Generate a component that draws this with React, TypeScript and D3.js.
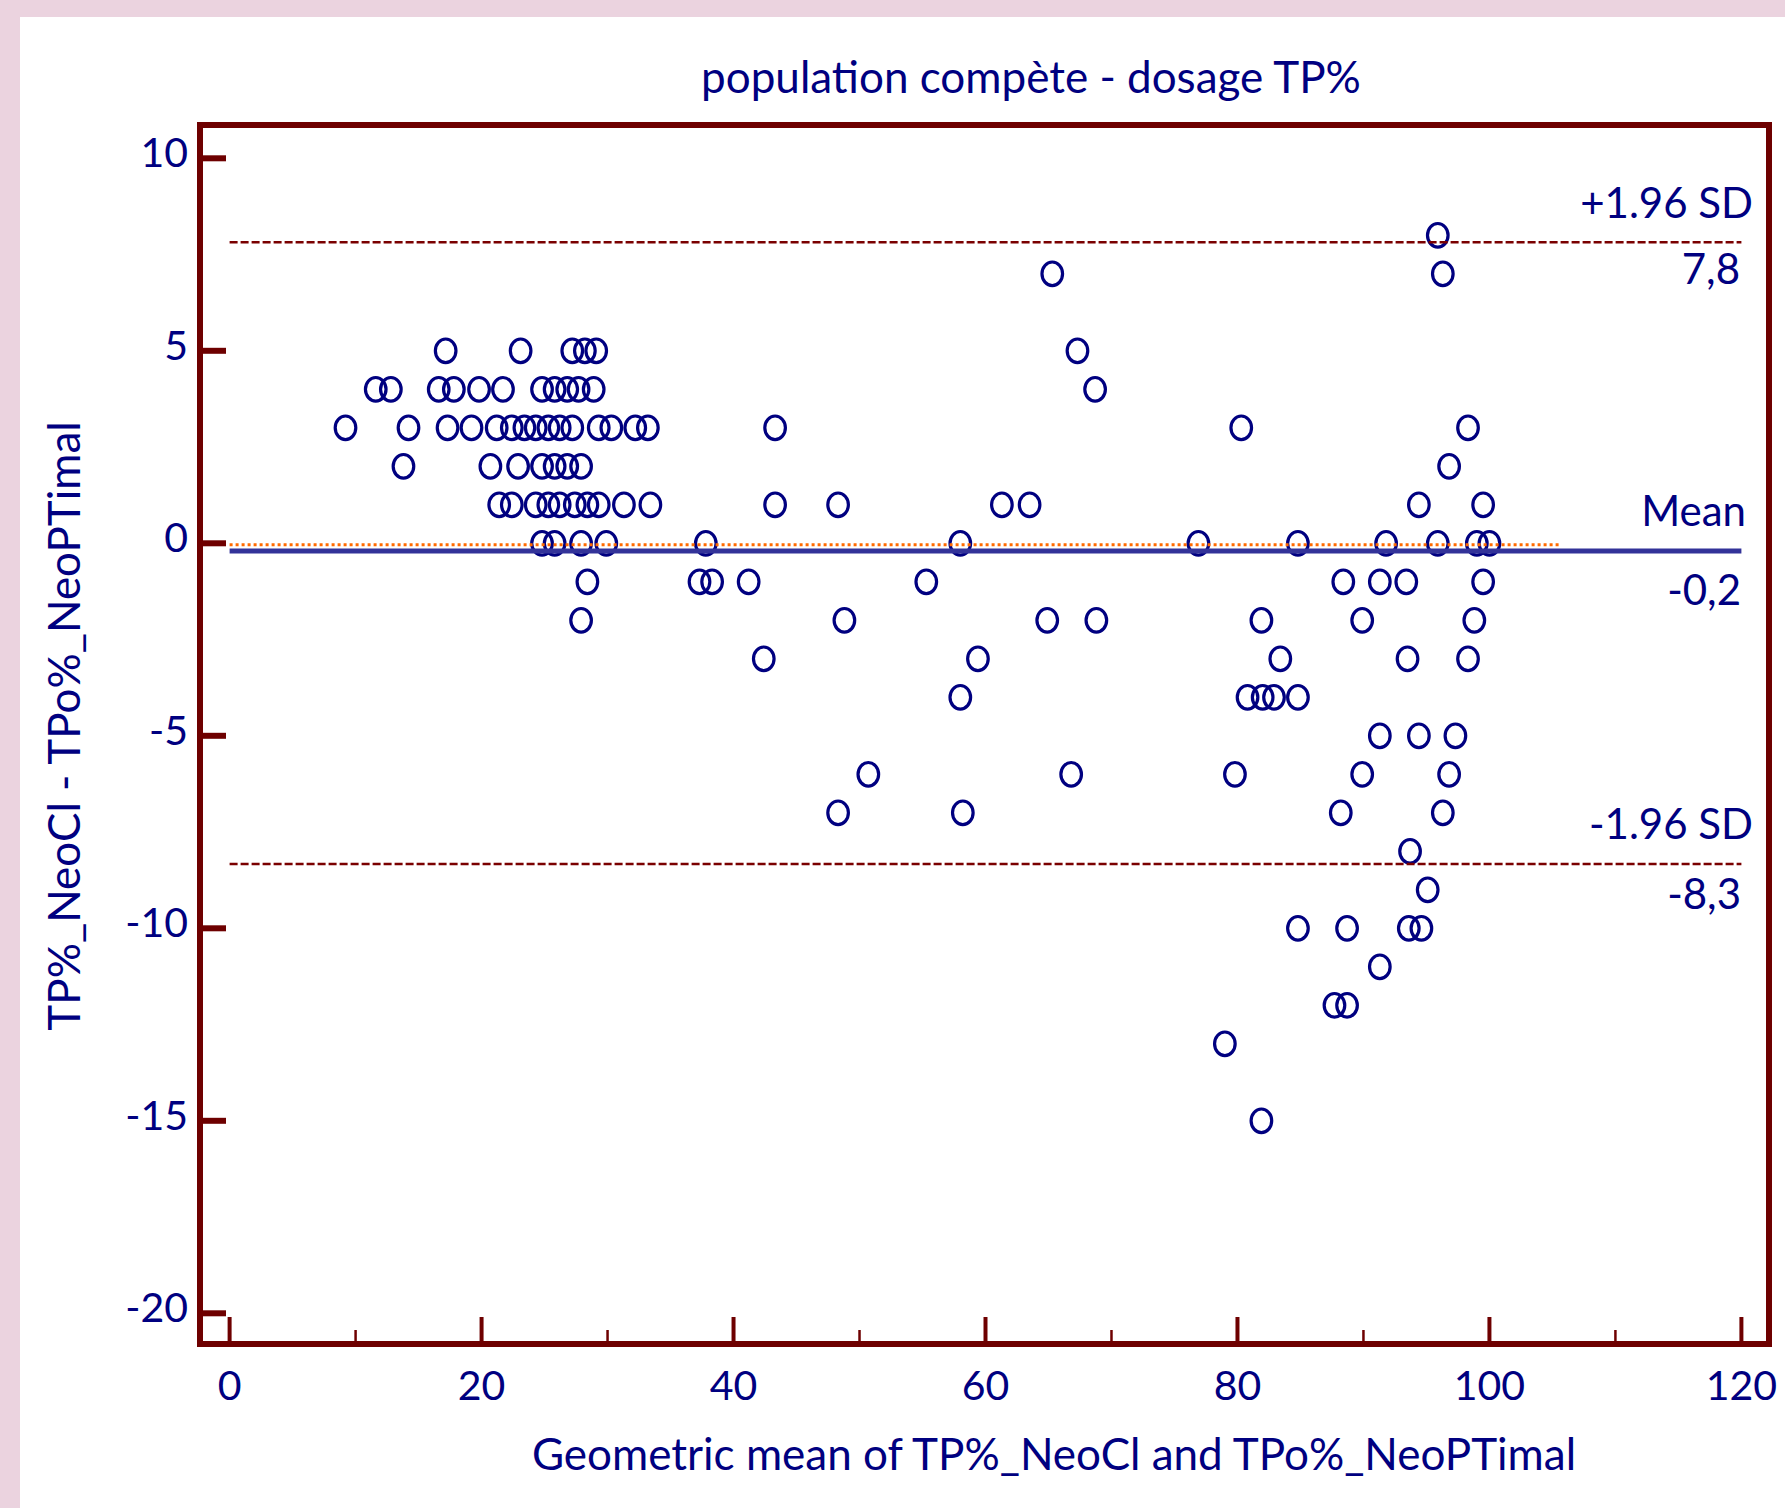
import React from "react";
import * as d3 from "d3";

// difference levels (y) and the geometric means (x) found at each level
const rowDiffs = [8, 7, 5, 4, 3, 2, 1, 0, -1, -2, -3, -4, -5, -6, -7, -8, -9, -10, -11, -12, -13, -15];
const rowMeans = [
  [95.9],
  [65.3, 96.3],
  [17.15, 23.1, 27.2, 28.2, 29.1, 67.3],
  [11.6, 12.8, 16.6, 17.8, 19.8, 21.7, 24.8, 25.8, 26.8, 27.7, 28.9, 68.7],
  [9.2, 14.2, 17.3, 19.2, 21.2, 22.4, 23.4, 24.3, 25.3, 26.2, 27.2, 29.3, 30.3, 32.2, 33.2, 43.3, 80.3, 98.3],
  [13.8, 20.7, 22.9, 24.8, 25.8, 26.8, 27.9, 96.8],
  [21.4, 22.4, 24.3, 25.3, 26.2, 27.4, 28.4, 29.3, 31.3, 33.4, 43.3, 48.3, 61.3, 63.5, 94.4, 99.5],
  [24.8, 25.8, 27.9, 29.9, 37.8, 58.0, 76.9, 84.8, 91.8, 95.9, 99.0, 100.0],
  [28.4, 37.3, 38.3, 41.2, 55.3, 88.4, 91.3, 93.4, 99.5],
  [27.9, 48.8, 64.9, 68.8, 81.9, 89.9, 98.8],
  [42.4, 59.4, 83.4, 93.5, 98.3],
  [58.0, 80.8, 82.0, 82.9, 84.8],
  [91.3, 94.4, 97.3],
  [50.7, 66.8, 79.8, 89.9, 96.8],
  [48.3, 58.2, 88.2, 96.3],
  [93.7],
  [95.1],
  [84.8, 88.7, 93.6, 94.6],
  [91.3],
  [87.7, 88.7],
  [79.0],
  [81.9],
];

const yTicks = [10, 5, 0, -5, -10, -15, -20];
const xMajor = [0, 20, 40, 60, 80, 100, 120];
const xMinor = [10, 30, 50, 70, 90, 110];

const sdUpper = 7.82;
const meanDiff = -0.2;
const sdLower = -8.33;
const sdUpperText = "7,8";
const meanText = "-0,2";
const sdLowerText = "-8,3";
const lineEnd = 120;
const zeroLineEnd = 105.6;

const title = "population compète - dosage TP%";
const xTitle = "Geometric mean of TP%_NeoCl and TPo%_NeoPTimal";
const yTitle = "TP%_NeoCl - TPo%_NeoPTimal";

const W = 1785;
const H = 1508;
const frame = { left: 200, right: 1769, top: 125, bottom: 1344 };
const navy = "#000080";
const maroon = "#6e0000";
const font = "Lato, 'Open Sans', sans-serif";

export default function App() {
  const x = d3.scaleLinear().domain([0, 120]).range([229.6, 1741.4]);
  const y = d3.scaleLinear().domain([10, -20]).range([158.3, 1313.3]);

  const points = rowDiffs.flatMap((d, i) => rowMeans[i].map((m) => ({ m, d })));

  return (
    <svg
      width={W}
      height={H}
      style={{ position: "absolute", left: 0, top: 0, display: "block" }}
      fontFamily={font}
    >
      <rect x={0} y={0} width={W} height={H} fill="#ebd3df" />
      <rect x={20} y={17} width={W - 20} height={H - 17} fill="#ffffff" />

      <text x={1031} y={93} textAnchor="middle" fontSize={44} fill={navy}>
        {title}
      </text>

      {/* points */}
      {points.map((p, i) => (
        <ellipse
          key={i}
          cx={x(p.m)}
          cy={y(p.d)}
          rx={10.3}
          ry={11.8}
          fill="none"
          stroke={navy}
          strokeWidth={3.2}
        />
      ))}

      {/* reference lines */}
      <line x1={x(0)} x2={x(zeroLineEnd)} y1={y(0) + 1.5} y2={y(0) + 1.5} stroke="#ff6a00" strokeWidth={3} strokeDasharray="3,3" />
      <line x1={x(0)} x2={x(lineEnd)} y1={y(meanDiff)} y2={y(meanDiff)} stroke="#333399" strokeWidth={5} />
      <line x1={x(0)} x2={x(lineEnd)} y1={y(sdUpper)} y2={y(sdUpper)} stroke="#7a0000" strokeWidth={2.5} strokeDasharray="8,3" />
      <line x1={x(0)} x2={x(lineEnd)} y1={y(sdLower)} y2={y(sdLower)} stroke="#7a0000" strokeWidth={2.5} strokeDasharray="8,3" />

      <g fontSize={42} fill={navy} textAnchor="end">
        <text x={1753} y={y(sdUpper) - 24}>+1.96 SD</text>
        <text x={1740} y={y(sdUpper) + 42}>{sdUpperText}</text>
        <text x={1746} y={y(meanDiff) - 25}>Mean</text>
        <text x={1741} y={y(meanDiff) + 54}>{meanText}</text>
        <text x={1753} y={y(sdLower) - 25}>-1.96 SD</text>
        <text x={1741} y={y(sdLower) + 45}>{sdLowerText}</text>
      </g>

      {/* frame */}
      <rect
        x={frame.left}
        y={frame.top}
        width={frame.right - frame.left}
        height={frame.bottom - frame.top}
        fill="none"
        stroke={maroon}
        strokeWidth={6}
      />

      {/* y axis */}
      {yTicks.map((t) => (
        <g key={t}>
          <line x1={frame.left} x2={226} y1={y(t)} y2={y(t)} stroke={maroon} strokeWidth={6} />
          <text x={188} y={y(t) + 9} textAnchor="end" fontSize={41} fill={navy}>
            {t}
          </text>
        </g>
      ))}

      {/* x axis */}
      {xMajor.map((t) => (
        <g key={t}>
          <line x1={x(t)} x2={x(t)} y1={1317} y2={frame.bottom} stroke={maroon} strokeWidth={4} />
          <text x={x(t)} y={1400} textAnchor="middle" fontSize={41} fill={navy}>
            {t}
          </text>
        </g>
      ))}
      {xMinor.map((t) => (
        <line key={t} x1={x(t)} x2={x(t)} y1={1330} y2={frame.bottom} stroke={maroon} strokeWidth={2.5} />
      ))}

      <text x={1054} y={1470} textAnchor="middle" fontSize={44} fill={navy}>
        {xTitle}
      </text>
      <text
        transform={`translate(80,726) rotate(-90)`}
        textAnchor="middle"
        fontSize={44}
        fill={navy}
      >
        {yTitle}
      </text>
    </svg>
  );
}
